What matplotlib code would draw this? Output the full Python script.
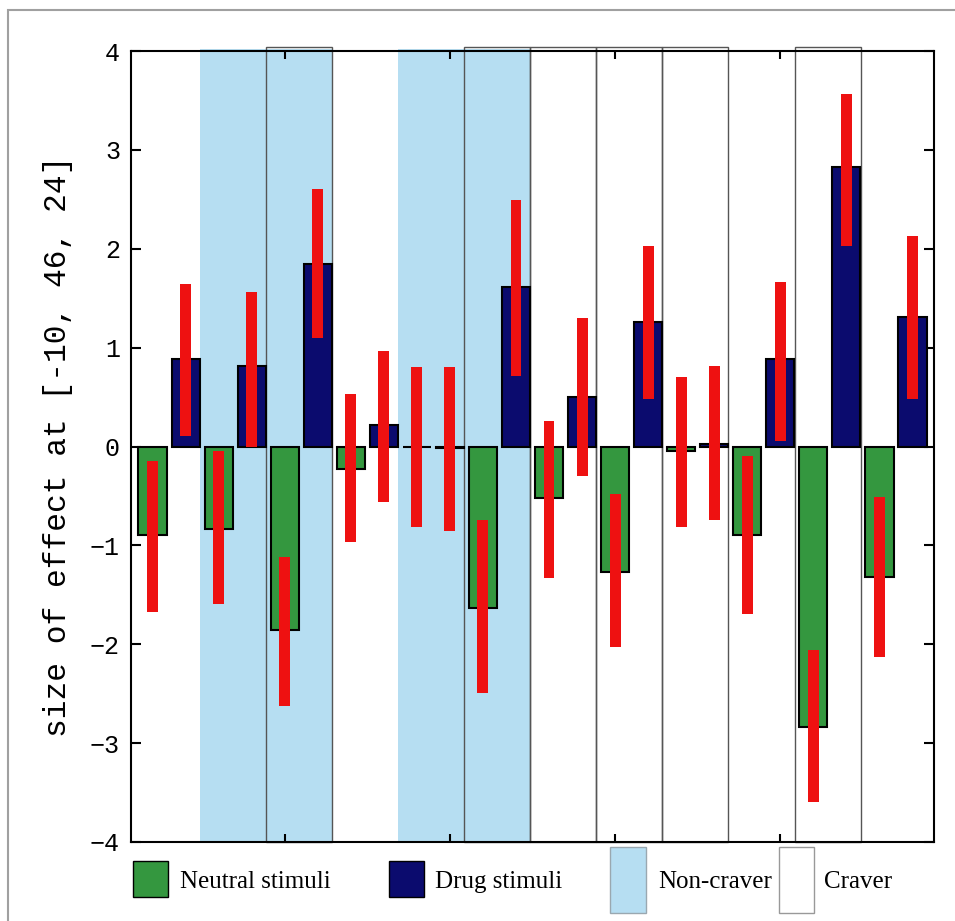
import matplotlib
matplotlib.use("Agg")
import matplotlib.pyplot as plt
from matplotlib.patches import Rectangle
import numpy as np

# ---- data ----
neutral = [-0.90, -0.83, -1.86, -0.23, -0.01, -1.63, -0.52, -1.27, -0.05, -0.90, -2.84, -1.32]
drug = [0.89, 0.81, 1.85, 0.22, -0.02, 1.61, 0.50, 1.26, 0.03, 0.89, 2.83, 1.31]
neutral_ci_low = [-1.67, -1.59, -2.62, -0.97, -0.81, -2.49, -1.33, -2.03, -0.81, -1.69, -3.60, -2.13]
neutral_ci_high = [-0.15, -0.05, -1.12, 0.53, 0.80, -0.74, 0.26, -0.48, 0.70, -0.10, -2.06, -0.51]
drug_ci_low = [0.11, 0.00, 1.10, -0.56, -0.85, 0.71, -0.30, 0.48, -0.74, 0.06, 2.03, 0.48]
drug_ci_high = [1.64, 1.56, 2.60, 0.97, 0.80, 2.49, 1.30, 2.03, 0.81, 1.66, 3.57, 2.13]
# per-pair group: non-craver shading and outlined box
non_craver = [False, True, True, False, True, True, False, False, False, False, False, False]
boxed = [False, False, True, False, False, True, True, True, True, False, True, False]
yticks = [-4, -3, -2, -1, 0, 1, 2, 3, 4]
xticks = [5, 10, 15, 20]
ylabel = "size of effect at [-10, 46, 24]"
legend_labels = ["Neutral stimuli", "Drug stimuli", "Non-craver", "Craver"]

GREEN = "#34973f"
NAVY = "#0b0b6e"
LBLUE = "#b6def2"
RED = "#ee1111"

fig = plt.figure(figsize=(9.55, 9.21), dpi=100)
ax = fig.add_axes([0.1372, 0.0858, 0.8408, 0.8588])

n = len(neutral)
pair_idx = np.arange(n)
xg = 2 * pair_idx + 1
xd = 2 * pair_idx + 2

# shading and boxes
for k in range(n):
    left = 2 * k + 0.43
    if non_craver[k]:
        ax.add_patch(Rectangle((left, -4), 2.0, 8.02, facecolor=LBLUE, edgecolor="none",
                               zorder=0, clip_on=False))
    if boxed[k]:
        ax.add_patch(Rectangle((left, -4), 2.0, 8.045, facecolor="none", edgecolor="#555555",
                               linewidth=1.0, zorder=0.5, clip_on=False))

ax.bar(xg, neutral, width=0.85, color=GREEN, edgecolor="black", linewidth=1.5, zorder=2)
ax.bar(xd, drug, width=0.85, color=NAVY, edgecolor="black", linewidth=1.5, zorder=2)

nl = np.array(neutral_ci_low); nh = np.array(neutral_ci_high)
dl = np.array(drug_ci_low); dh = np.array(drug_ci_high)
ax.bar(xg, nh - nl, bottom=nl, width=0.33, color=RED, edgecolor="none", zorder=3)
ax.bar(xd, dh - dl, bottom=dl, width=0.33, color=RED, edgecolor="none", zorder=3)

ax.set_xlim(0.35, 24.65)
ax.set_ylim(-4, 4)
ax.set_yticks(yticks)
ax.set_xticks(xticks)
ax.set_xticklabels([])
for s in ax.spines.values():
    s.set_linewidth(1.5)
    s.set_zorder(5)
ax.tick_params(axis="y", direction="in", length=7.5, width=1.5, left=True, right=True,
               labelsize=18, pad=8)
ax.tick_params(axis="x", direction="in", length=6, width=1.5, top=True, bottom=True)
for lab in ax.get_yticklabels():
    lab.set_family("Liberation Mono")

ax.set_ylabel(ylabel, family="Liberation Mono", fontsize=22.5)
ax.yaxis.set_label_coords(-0.072, 0.5)

# legend drawn below the axes
patches = [
    (0.0025, -0.0695, 0.0436, 0.0455, GREEN, "black"),
    (0.3217, -0.0695, 0.0436, 0.0455, NAVY, "black"),
    (0.597, -0.0898, 0.0449, 0.0835, LBLUE, "#9aa8b0"),
    (0.8067, -0.0898, 0.0436, 0.0835, "white", "#999999"),
]
text_x = [0.061, 0.379, 0.656, 0.863]
for (x, y, w, h, fc, ec), tx, lab in zip(patches, text_x, legend_labels):
    ax.add_patch(Rectangle((x, y), w, h, transform=ax.transAxes, facecolor=fc,
                           edgecolor=ec, linewidth=1.0, clip_on=False))
    ax.text(tx, -0.058, lab, transform=ax.transAxes, family="Liberation Serif",
            fontsize=18, va="baseline", ha="left")

# outer frame
fig.add_artist(Rectangle((8 / 955, -0.02), 1.05, 1 - 10 / 921 + 0.02, transform=fig.transFigure,
                         facecolor="none", edgecolor="#a0a0a0", linewidth=1.5))

fig.savefig("out.png", dpi=100)
